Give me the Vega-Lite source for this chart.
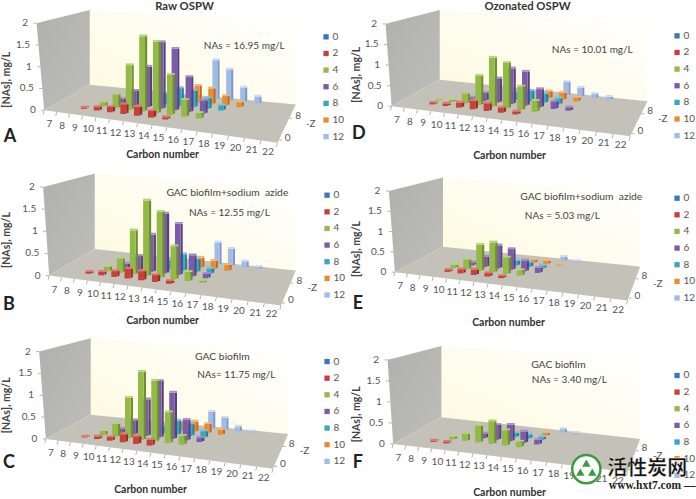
{"$schema":"https://vega.github.io/schema/vega-lite/v6.json","width":696,"height":499,"padding":0,"autosize":{"type":"fit","contains":"padding"},"background":"#ffffff","config":{"view":{"stroke":null},"text":{"font":"Lato"}},
"params":[{"name":"geo","value":{
"A":{"fl":[44.3,110.7],"fr":[278.3,143.3],"bl":[90,85],"br":[296.7,105],"ftl":[36.7,23.3],"btl":[90,10],"btr":[295,22],"leg":[327,37],"xt":[163,156],"yt":[7.5,80],"let":[10,138],"title":[185,7],"n1":[0,0],"n2":[245,46]},
"B":{"fl":[49.3,276.7],"fr":[281.7,306.7],"bl":[95,250],"br":[296.7,271.7],"ftl":[43.3,187.7],"btl":[93.3,174.3],"btr":[295,186.7],"leg":[328,196],"xt":[163,322],"yt":[7,241],"let":[9,306],"title":[0,0],"n1":[228,194],"n2":[230,214]},
"C":{"fl":[46,440.7],"fr":[273.7,470.7],"bl":[91,416.3],"br":[289,435.7],"ftl":[39.3,353],"btl":[88.3,339.7],"btr":[287.3,352.3],"leg":[328,363],"xt":[151,492],"yt":[7,407],"let":[9,465],"title":[0,0],"n1":[223,358],"n2":[237,377]},
"D":{"fl":[392.7,106.7],"fr":[632,136.7],"bl":[441,80],"br":[649.3,101.7],"ftl":[386.7,24],"btl":[439.3,10],"btr":[647.7,23],"leg":[679,36],"xt":[511,157],"yt":[358,75],"let":[360,135],"title":[529,7],"n1":[0,0],"n2":[594,50]},
"E":{"fl":[396,273.3],"fr":[629.3,301.7],"bl":[444.3,247.7],"br":[642,267.7],"ftl":[390,191.7],"btl":[442,178.3],"btr":[641,191.7],"leg":[679,199],"xt":[510,324],"yt":[358,250],"let":[359,305],"title":[0,0],"n1":[583,198],"n2":[564,217]},
"F":{"fl":[394.3,445.7],"fr":[629.3,474],"bl":[442.7,419],"br":[642,440.7],"ftl":[388.7,361.3],"btl":[440,347.3],"btr":[641,359],"leg":[679,377],"xt":[511,495],"yt":[358,416],"let":[359,465],"title":[0,0],"n1":[560,366],"n2":[571,382]}
}}],
"datasets":{
"panels":[
{"panel":"A","title":"Raw OSPW","n1":"","n2":"NAs = 16.95 mg/L"},
{"panel":"B","title":"","n1":"GAC biofilm+sodium\u00a0 azide","n2":"NAs = 12.55 mg/L"},
{"panel":"C","title":"","n1":"GAC biofilm","n2":"NAs= 11.75 mg/L"},
{"panel":"D","title":"Ozonated OSPW","n1":"","n2":"NAs = 10.01 mg/L"},
{"panel":"E","title":"","n1":"GAC biofilm+sodium\u00a0 azide","n2":"NAs = 5.03 mg/L"},
{"panel":"F","title":"","n1":"GAC biofilm","n2":"NAs = 3.40 mg/L"}],
"nas":[
{"panel":"A","series":12,"carbon":17,"nas":0.97},{"panel":"A","series":12,"carbon":18,"nas":0.77},{"panel":"A","series":12,"carbon":19,"nas":0.36},{"panel":"A","series":12,"carbon":20,"nas":0.17},
{"panel":"A","series":10,"carbon":16,"nas":0.41},{"panel":"A","series":10,"carbon":17,"nas":0.38},{"panel":"A","series":10,"carbon":18,"nas":0.23},{"panel":"A","series":10,"carbon":19,"nas":0.12},
{"panel":"A","series":8,"carbon":14,"nas":0.25},{"panel":"A","series":8,"carbon":15,"nas":0.42},{"panel":"A","series":8,"carbon":16,"nas":0.39},{"panel":"A","series":8,"carbon":17,"nas":0.25},{"panel":"A","series":8,"carbon":18,"nas":0.12},
{"panel":"A","series":6,"carbon":11,"nas":0.12},{"panel":"A","series":6,"carbon":12,"nas":0.35},{"panel":"A","series":6,"carbon":13,"nas":0.95},{"panel":"A","series":6,"carbon":14,"nas":1.55},{"panel":"A","series":6,"carbon":15,"nas":1.42},{"panel":"A","series":6,"carbon":16,"nas":0.8},{"panel":"A","series":6,"carbon":17,"nas":0.3},
{"panel":"A","series":4,"carbon":10,"nas":0.1},{"panel":"A","series":4,"carbon":11,"nas":0.32},{"panel":"A","series":4,"carbon":12,"nas":1.03},{"panel":"A","series":4,"carbon":13,"nas":1.72},{"panel":"A","series":4,"carbon":14,"nas":1.62},{"panel":"A","series":4,"carbon":15,"nas":0.9},{"panel":"A","series":4,"carbon":16,"nas":0.37},{"panel":"A","series":4,"carbon":17,"nas":0.12},
{"panel":"A","series":2,"carbon":9,"nas":0.03},{"panel":"A","series":2,"carbon":10,"nas":0.08},{"panel":"A","series":2,"carbon":11,"nas":0.12},{"panel":"A","series":2,"carbon":12,"nas":0.22},{"panel":"A","series":2,"carbon":13,"nas":0.2},{"panel":"A","series":2,"carbon":14,"nas":0.15},{"panel":"A","series":2,"carbon":15,"nas":0.05},
{"panel":"B","series":12,"carbon":17,"nas":0.54},{"panel":"B","series":12,"carbon":18,"nas":0.42},{"panel":"B","series":12,"carbon":19,"nas":0.15},{"panel":"B","series":12,"carbon":20,"nas":0.05},
{"panel":"B","series":10,"carbon":16,"nas":0.24},{"panel":"B","series":10,"carbon":17,"nas":0.2},{"panel":"B","series":10,"carbon":18,"nas":0.14},
{"panel":"B","series":8,"carbon":14,"nas":0.2},{"panel":"B","series":8,"carbon":15,"nas":0.38},{"panel":"B","series":8,"carbon":16,"nas":0.3},{"panel":"B","series":8,"carbon":17,"nas":0.12},
{"panel":"B","series":6,"carbon":11,"nas":0.12},{"panel":"B","series":6,"carbon":12,"nas":0.33},{"panel":"B","series":6,"carbon":13,"nas":0.86},{"panel":"B","series":6,"carbon":14,"nas":1.37},{"panel":"B","series":6,"carbon":15,"nas":1.16},{"panel":"B","series":6,"carbon":16,"nas":0.48},{"panel":"B","series":6,"carbon":17,"nas":0.1},
{"panel":"B","series":4,"carbon":10,"nas":0.11},{"panel":"B","series":4,"carbon":11,"nas":0.33},{"panel":"B","series":4,"carbon":12,"nas":1.0},{"panel":"B","series":4,"carbon":13,"nas":1.7},{"panel":"B","series":4,"carbon":14,"nas":1.47},{"panel":"B","series":4,"carbon":15,"nas":0.73},{"panel":"B","series":4,"carbon":16,"nas":0.2},{"panel":"B","series":4,"carbon":17,"nas":0.05},
{"panel":"B","series":2,"carbon":9,"nas":0.04},{"panel":"B","series":2,"carbon":10,"nas":0.08},{"panel":"B","series":2,"carbon":11,"nas":0.13},{"panel":"B","series":2,"carbon":12,"nas":0.22},{"panel":"B","series":2,"carbon":13,"nas":0.2},{"panel":"B","series":2,"carbon":14,"nas":0.15},{"panel":"B","series":2,"carbon":15,"nas":0.06},
{"panel":"C","series":12,"carbon":17,"nas":0.42},{"panel":"C","series":12,"carbon":18,"nas":0.3},{"panel":"C","series":12,"carbon":19,"nas":0.12},{"panel":"C","series":12,"carbon":20,"nas":0.04},
{"panel":"C","series":10,"carbon":15,"nas":0.2},{"panel":"C","series":10,"carbon":16,"nas":0.25},{"panel":"C","series":10,"carbon":17,"nas":0.22},{"panel":"C","series":10,"carbon":18,"nas":0.12},
{"panel":"C","series":8,"carbon":14,"nas":0.15},{"panel":"C","series":8,"carbon":15,"nas":0.33},{"panel":"C","series":8,"carbon":16,"nas":0.28},{"panel":"C","series":8,"carbon":17,"nas":0.15},
{"panel":"C","series":6,"carbon":11,"nas":0.1},{"panel":"C","series":6,"carbon":12,"nas":0.33},{"panel":"C","series":6,"carbon":13,"nas":0.85},{"panel":"C","series":6,"carbon":14,"nas":1.3},{"panel":"C","series":6,"carbon":15,"nas":1.06},{"panel":"C","series":6,"carbon":16,"nas":0.47},{"panel":"C","series":6,"carbon":17,"nas":0.1},
{"panel":"C","series":4,"carbon":10,"nas":0.1},{"panel":"C","series":4,"carbon":11,"nas":0.3},{"panel":"C","series":4,"carbon":12,"nas":0.93},{"panel":"C","series":4,"carbon":13,"nas":1.55},{"panel":"C","series":4,"carbon":14,"nas":1.37},{"panel":"C","series":4,"carbon":15,"nas":0.69},{"panel":"C","series":4,"carbon":16,"nas":0.2},
{"panel":"C","series":2,"carbon":9,"nas":0.02},{"panel":"C","series":2,"carbon":10,"nas":0.06},{"panel":"C","series":2,"carbon":11,"nas":0.08},{"panel":"C","series":2,"carbon":12,"nas":0.18},{"panel":"C","series":2,"carbon":13,"nas":0.17},{"panel":"C","series":2,"carbon":14,"nas":0.13},
{"panel":"D","series":12,"carbon":17,"nas":0.35},{"panel":"D","series":12,"carbon":18,"nas":0.24},{"panel":"D","series":12,"carbon":19,"nas":0.11},{"panel":"D","series":12,"carbon":20,"nas":0.08},
{"panel":"D","series":10,"carbon":16,"nas":0.18},{"panel":"D","series":10,"carbon":17,"nas":0.18},{"panel":"D","series":10,"carbon":18,"nas":0.1},
{"panel":"D","series":8,"carbon":14,"nas":0.2},{"panel":"D","series":8,"carbon":15,"nas":0.26},{"panel":"D","series":8,"carbon":16,"nas":0.22},{"panel":"D","series":8,"carbon":17,"nas":0.15},
{"panel":"D","series":6,"carbon":11,"nas":0.05},{"panel":"D","series":6,"carbon":12,"nas":0.2},{"panel":"D","series":6,"carbon":13,"nas":0.6},{"panel":"D","series":6,"carbon":14,"nas":0.88},{"panel":"D","series":6,"carbon":15,"nas":0.83},{"panel":"D","series":6,"carbon":16,"nas":0.44},{"panel":"D","series":6,"carbon":17,"nas":0.18},{"panel":"D","series":6,"carbon":18,"nas":0.08},
{"panel":"D","series":4,"carbon":9,"nas":0.03},{"panel":"D","series":4,"carbon":10,"nas":0.05},{"panel":"D","series":4,"carbon":11,"nas":0.25},{"panel":"D","series":4,"carbon":12,"nas":0.72},{"panel":"D","series":4,"carbon":13,"nas":1.19},{"panel":"D","series":4,"carbon":14,"nas":1.09},{"panel":"D","series":4,"carbon":15,"nas":0.56},{"panel":"D","series":4,"carbon":16,"nas":0.26},
{"panel":"D","series":2,"carbon":9,"nas":0.04},{"panel":"D","series":2,"carbon":10,"nas":0.06},{"panel":"D","series":2,"carbon":11,"nas":0.12},{"panel":"D","series":2,"carbon":12,"nas":0.2},{"panel":"D","series":2,"carbon":13,"nas":0.18},{"panel":"D","series":2,"carbon":14,"nas":0.12},{"panel":"D","series":2,"carbon":15,"nas":0.07},
{"panel":"E","series":12,"carbon":17,"nas":0.12},{"panel":"E","series":12,"carbon":18,"nas":0.04},
{"panel":"E","series":10,"carbon":15,"nas":0.08},{"panel":"E","series":10,"carbon":16,"nas":0.09},{"panel":"E","series":10,"carbon":17,"nas":0.03},
{"panel":"E","series":8,"carbon":14,"nas":0.13},{"panel":"E","series":8,"carbon":15,"nas":0.12},{"panel":"E","series":8,"carbon":16,"nas":0.08},
{"panel":"E","series":6,"carbon":11,"nas":0.08},{"panel":"E","series":6,"carbon":12,"nas":0.26},{"panel":"E","series":6,"carbon":13,"nas":0.58},{"panel":"E","series":6,"carbon":14,"nas":0.52},{"panel":"E","series":6,"carbon":15,"nas":0.27},{"panel":"E","series":6,"carbon":16,"nas":0.12},
{"panel":"E","series":4,"carbon":10,"nas":0.08},{"panel":"E","series":4,"carbon":11,"nas":0.25},{"panel":"E","series":4,"carbon":12,"nas":0.65},{"panel":"E","series":4,"carbon":13,"nas":0.74},{"panel":"E","series":4,"carbon":14,"nas":0.4},{"panel":"E","series":4,"carbon":15,"nas":0.13},
{"panel":"E","series":2,"carbon":10,"nas":0.05},{"panel":"E","series":2,"carbon":11,"nas":0.1},{"panel":"E","series":2,"carbon":12,"nas":0.13},{"panel":"E","series":2,"carbon":13,"nas":0.08},{"panel":"E","series":2,"carbon":14,"nas":0.05},
{"panel":"F","series":12,"carbon":17,"nas":0.1},{"panel":"F","series":12,"carbon":18,"nas":0.04},
{"panel":"F","series":10,"carbon":16,"nas":0.08},
{"panel":"F","series":8,"carbon":14,"nas":0.1},{"panel":"F","series":8,"carbon":15,"nas":0.1},{"panel":"F","series":8,"carbon":16,"nas":0.08},
{"panel":"F","series":6,"carbon":12,"nas":0.12},{"panel":"F","series":6,"carbon":13,"nas":0.36},{"panel":"F","series":6,"carbon":14,"nas":0.4},{"panel":"F","series":6,"carbon":15,"nas":0.27},{"panel":"F","series":6,"carbon":16,"nas":0.11},
{"panel":"F","series":4,"carbon":10,"nas":0.07},{"panel":"F","series":4,"carbon":11,"nas":0.17},{"panel":"F","series":4,"carbon":12,"nas":0.4},{"panel":"F","series":4,"carbon":13,"nas":0.54},{"panel":"F","series":4,"carbon":14,"nas":0.36},{"panel":"F","series":4,"carbon":15,"nas":0.13},
{"panel":"F","series":2,"carbon":9,"nas":0.03},{"panel":"F","series":2,"carbon":10,"nas":0.04}]
},
"encoding":{
"x":{"field":"px","type":"quantitative","scale":{"domain":[0,696],"nice":false,"zero":false},"axis":null},
"y":{"field":"py","type":"quantitative","scale":{"domain":[499,0],"nice":false,"zero":false},"axis":null}},
"layer":[
{"data":{"name":"panels"},"transform":[{"calculate":"geo[datum.panel]","as":"g"},{"calculate":"[0,1]","as":"edge"},{"flatten":["edge"]},
{"calculate":"datum.edge?datum.g.br[0]:datum.g.bl[0]","as":"px"},{"calculate":"datum.edge?datum.g.btr[1]:datum.g.btl[1]","as":"py"},{"calculate":"datum.edge?datum.g.br[1]:datum.g.bl[1]","as":"py2"}],
"mark":{"type":"area","color":{"gradient":"linear","x1":0,"y1":1,"x2":1,"y2":0,"stops":[{"offset":0,"color":"#fdfadf"},{"offset":1,"color":"#ffffff"}]}},
"encoding":{"y2":{"field":"py2"},"detail":{"field":"panel"}}},
{"data":{"name":"panels"},"transform":[{"calculate":"geo[datum.panel]","as":"g"},{"calculate":"[0,1,2]","as":"edge"},{"flatten":["edge"]},
{"calculate":"datum.edge==0?datum.g.ftl[0]:datum.edge==1?datum.g.fl[0]:datum.g.bl[0]","as":"px"},
{"calculate":"datum.edge==0?datum.g.ftl[1]:datum.edge==1?datum.g.ftl[1]+(datum.g.btl[1]-datum.g.ftl[1])*(datum.g.fl[0]-datum.g.ftl[0])/(datum.g.bl[0]-datum.g.ftl[0]):datum.g.btl[1]","as":"py"},
{"calculate":"datum.edge==0?datum.g.ftl[1]:datum.edge==1?datum.g.fl[1]:datum.g.bl[1]","as":"py2"}],
"mark":{"type":"area","color":{"gradient":"linear","x1":0,"y1":0,"x2":1,"y2":1,"stops":[{"offset":0,"color":"#b0b0ac"},{"offset":1,"color":"#bdbdb9"}]}},
"encoding":{"y2":{"field":"py2"},"detail":{"field":"panel"}}},
{"data":{"name":"panels"},"transform":[{"calculate":"geo[datum.panel]","as":"g"},{"calculate":"[0,1,2,3]","as":"edge"},{"flatten":["edge"]},
{"calculate":"datum.edge==0?datum.g.fl[0]:datum.edge==1?datum.g.bl[0]:datum.edge==2?datum.g.fr[0]:datum.g.br[0]","as":"px"},
{"calculate":"datum.edge==0?datum.g.fl[1]:datum.edge==1?datum.g.bl[1]:datum.edge==2?datum.g.bl[1]+(datum.g.br[1]-datum.g.bl[1])*(datum.g.fr[0]-datum.g.bl[0])/(datum.g.br[0]-datum.g.bl[0]):datum.g.br[1]","as":"py"},
{"calculate":"datum.edge==0?datum.g.fl[1]:datum.edge==1?datum.g.fl[1]+(datum.g.fr[1]-datum.g.fl[1])*(datum.g.bl[0]-datum.g.fl[0])/(datum.g.fr[0]-datum.g.fl[0]):datum.edge==2?datum.g.fr[1]:datum.g.br[1]","as":"py2"}],
"mark":{"type":"area","color":"#c4c2b8"},
"encoding":{"y2":{"field":"py2"},"detail":{"field":"panel"}}},
{"data":{"name":"nas"},"transform":[{"calculate":"geo[datum.panel]","as":"g"},
{"calculate":"(datum.carbon-6.5)/16","as":"s"},{"calculate":"datum.s*(0.85+0.15*datum.s)","as":"w"},{"calculate":"(datum.series/2+0.5)/7","as":"v"},
{"calculate":"(1-datum.v)*(datum.g.fl[0]+(datum.g.fr[0]-datum.g.fl[0])*datum.w)+datum.v*(datum.g.bl[0]+(datum.g.br[0]-datum.g.bl[0])*datum.w)","as":"bx"},
{"calculate":"(1-datum.v)*(datum.g.fl[1]+(datum.g.fr[1]-datum.g.fl[1])*datum.w)+datum.v*(datum.g.bl[1]+(datum.g.br[1]-datum.g.bl[1])*datum.w)","as":"by"},
{"calculate":"0.5*((1-datum.v)*(datum.g.fl[1]-datum.g.ftl[1])*(1+0.18*datum.w)+datum.v*((datum.g.bl[1]-datum.g.btl[1])+datum.w*((datum.g.br[1]-datum.g.btr[1])-(datum.g.bl[1]-datum.g.btl[1]))))","as":"unit"},
{"calculate":"datum.by-datum.nas*datum.unit","as":"top"},{"calculate":"4.3-0.8*datum.v","as":"hw"},
{"calculate":"['side','front','cap']","as":"part"},{"flatten":["part"]},
{"calculate":"datum.part=='side'?datum.bx+datum.hw-2.2:datum.bx-datum.hw","as":"px"},
{"calculate":"datum.part=='front'?datum.bx+datum.hw-2.2:datum.bx+datum.hw","as":"px2"},
{"calculate":"datum.part=='cap'?datum.top:datum.part=='side'?datum.by-1:datum.by","as":"py"},
{"calculate":"datum.part=='cap'?datum.top-1.8:datum.top","as":"py2"},
{"calculate":"datum.series+datum.part","as":"key"}],
"mark":{"type":"rect"},
"encoding":{"x2":{"field":"px2"},"y2":{"field":"py2"},
"color":{"field":"key","type":"nominal","legend":null,"scale":{
"domain":["0front","2front","4front","6front","8front","10front","12front","2side","4side","6side","8side","10side","12side","2cap","4cap","6cap","8cap","10cap","12cap"],
"range":["#3b76b8","#c8403a","#93b947","#7c5ba8","#35a6c4","#ee8a2e","#9fbbe8","#962c28","#6e8f30","#5b4080","#24809a","#c06a1a","#7c97c8","#e07670","#b5d378","#a58cca","#74c6dc","#f8b478","#c8daf4"]}}}},
{"data":{"name":"panels"},"transform":[{"calculate":"geo[datum.panel]","as":"g"},{"calculate":"[6.5,7.5,8.5,9.5,10.5,11.5,12.5,13.5,14.5,15.5,16.5,17.5,18.5,19.5,20.5,21.5,22.5]","as":"carbon"},{"flatten":["carbon"]},
{"calculate":"(datum.carbon-6.5)/16","as":"s"},{"calculate":"datum.s*(0.85+0.15*datum.s)","as":"w"},
{"calculate":"datum.g.fl[0]+(datum.g.fr[0]-datum.g.fl[0])*datum.w","as":"px"},{"calculate":"datum.g.fl[1]+(datum.g.fr[1]-datum.g.fl[1])*datum.w","as":"py"},
{"calculate":"datum.px-1","as":"px2"},{"calculate":"datum.py+4","as":"py2"}],
"mark":{"type":"rule","color":"#a0a09a","strokeWidth":0.8},"encoding":{"x2":{"field":"px2"},"y2":{"field":"py2"}}},
{"data":{"name":"panels"},"transform":[{"calculate":"geo[datum.panel]","as":"g"},{"calculate":"[0,0.5,1,1.5,2]","as":"val"},{"flatten":["val"]},
{"calculate":"datum.g.fl[0]+(datum.g.ftl[0]-datum.g.fl[0])*datum.val/2","as":"px"},{"calculate":"datum.g.fl[1]+(datum.g.ftl[1]-datum.g.fl[1])*datum.val/2","as":"py"},
{"calculate":"datum.px-3","as":"px2"},{"calculate":"datum.py","as":"py2"}],
"mark":{"type":"rule","color":"#a0a09a","strokeWidth":0.8},"encoding":{"x2":{"field":"px2"},"y2":{"field":"py2"}}},
{"data":{"name":"panels"},"transform":[{"calculate":"geo[datum.panel]","as":"g"},{"calculate":"[0,8]","as":"z"},{"flatten":["z"]},{"calculate":"(datum.z/2+0.5)/7","as":"v"},
{"calculate":"datum.g.fr[0]+(datum.g.br[0]-datum.g.fr[0])*datum.v","as":"px"},{"calculate":"datum.g.fr[1]+(datum.g.br[1]-datum.g.fr[1])*datum.v","as":"py"},
{"calculate":"datum.px+3","as":"px2"},{"calculate":"datum.py","as":"py2"}],
"mark":{"type":"rule","color":"#a0a09a","strokeWidth":0.8},"encoding":{"x2":{"field":"px2"},"y2":{"field":"py2"}}},
{"data":{"name":"panels"},"transform":[{"calculate":"geo[datum.panel]","as":"g"},{"calculate":"[7,8,9,10,11,12,13,14,15,16,17,18,19,20,21,22]","as":"carbon"},{"flatten":["carbon"]},
{"calculate":"(datum.carbon-6.5)/16","as":"s"},{"calculate":"datum.s*(0.85+0.15*datum.s)","as":"w"},
{"calculate":"datum.g.fl[0]+(datum.g.fr[0]-datum.g.fl[0])*datum.w-1","as":"px"},{"calculate":"datum.g.fl[1]+(datum.g.fr[1]-datum.g.fl[1])*datum.w+13.5-3.5*datum.s","as":"py"},{"calculate":"''+datum.carbon","as":"t"}],
"mark":{"type":"text","fontSize":10,"color":"#555555","align":"center","baseline":"middle"},"encoding":{"text":{"field":"t","type":"nominal"}}},
{"data":{"name":"panels"},"transform":[{"calculate":"geo[datum.panel]","as":"g"},{"calculate":"[0,0.5,1,1.5,2]","as":"val"},{"flatten":["val"]},
{"calculate":"datum.g.fl[0]+(datum.g.ftl[0]-datum.g.fl[0])*datum.val/2-8.5","as":"px"},{"calculate":"datum.g.fl[1]+(datum.g.ftl[1]-datum.g.fl[1])*datum.val/2","as":"py"},{"calculate":"''+datum.val","as":"t"}],
"mark":{"type":"text","fontSize":10,"color":"#555555","align":"right","baseline":"middle"},"encoding":{"text":{"field":"t","type":"nominal"}}},
{"data":{"name":"panels"},"transform":[{"calculate":"geo[datum.panel]","as":"g"},{"calculate":"[0,8]","as":"z"},{"flatten":["z"]},{"calculate":"(datum.z/2+0.5)/7","as":"v"},
{"calculate":"datum.g.fr[0]+(datum.g.br[0]-datum.g.fr[0])*datum.v+6","as":"px"},{"calculate":"datum.g.fr[1]+(datum.g.br[1]-datum.g.fr[1])*datum.v-2.5","as":"py"},{"calculate":"''+datum.z","as":"t"}],
"mark":{"type":"text","fontSize":10,"color":"#555555","align":"left","baseline":"middle"},"encoding":{"text":{"field":"t","type":"nominal"}}},
{"data":{"name":"panels"},"transform":[{"calculate":"geo[datum.panel]","as":"g"},
{"calculate":"(datum.g.fr[0]+datum.g.br[0])/2+24","as":"px"},{"calculate":"(datum.g.fr[1]+datum.g.br[1])/2","as":"py"},{"calculate":"'-Z'","as":"t"}],
"mark":{"type":"text","fontSize":10,"color":"#555555","align":"center","baseline":"middle"},"encoding":{"text":{"field":"t","type":"nominal"}}},
{"data":{"name":"panels"},"transform":[{"calculate":"geo[datum.panel]","as":"g"},{"calculate":"datum.g.xt[0]","as":"px"},{"calculate":"datum.g.xt[1]","as":"py"},{"calculate":"'Carbon number'","as":"t"}],
"mark":{"type":"text","fontSize":10.5,"fontWeight":"bold","color":"#333333","align":"center","baseline":"middle"},"encoding":{"text":{"field":"t","type":"nominal"}}},
{"data":{"name":"panels"},"transform":[{"calculate":"geo[datum.panel]","as":"g"},{"calculate":"datum.g.yt[0]","as":"px"},{"calculate":"datum.g.yt[1]","as":"py"},{"calculate":"'[NAs], mg/L'","as":"t"}],
"mark":{"type":"text","fontSize":10.5,"fontWeight":"bold","color":"#444444","angle":270,"align":"center","baseline":"middle"},"encoding":{"text":{"field":"t","type":"nominal"}}},
{"data":{"name":"panels"},"transform":[{"calculate":"geo[datum.panel]","as":"g"},{"calculate":"datum.g.let[0]","as":"px"},{"calculate":"datum.g.let[1]","as":"py"}],
"mark":{"type":"text","fontSize":18,"fontWeight":"bold","color":"#222222","align":"center","baseline":"middle"},"encoding":{"text":{"field":"panel","type":"nominal"}}},
{"data":{"name":"panels"},"transform":[{"filter":"datum.title!=''"},{"calculate":"geo[datum.panel]","as":"g"},{"calculate":"datum.g.title[0]","as":"px"},{"calculate":"datum.g.title[1]","as":"py"}],
"mark":{"type":"text","fontSize":11.3,"fontWeight":"bold","color":"#333333","align":"center","baseline":"middle"},"encoding":{"text":{"field":"title","type":"nominal"}}},
{"data":{"name":"panels"},"transform":[{"filter":"datum.n1!=''"},{"calculate":"geo[datum.panel]","as":"g"},{"calculate":"datum.g.n1[0]","as":"px"},{"calculate":"datum.g.n1[1]","as":"py"}],
"mark":{"type":"text","fontSize":10.3,"color":"#444444","align":"center","baseline":"middle"},"encoding":{"text":{"field":"n1","type":"nominal"}}},
{"data":{"name":"panels"},"transform":[{"calculate":"geo[datum.panel]","as":"g"},{"calculate":"datum.g.n2[0]","as":"px"},{"calculate":"datum.g.n2[1]","as":"py"}],
"mark":{"type":"text","fontSize":10,"color":"#444444","align":"center","baseline":"middle"},"encoding":{"text":{"field":"n2","type":"nominal"}}},
{"data":{"name":"panels"},"transform":[{"calculate":"geo[datum.panel]","as":"g"},{"calculate":"[0,2,4,6,8,10,12]","as":"series"},{"flatten":["series"]},
{"calculate":"datum.g.leg[0]","as":"px"},{"calculate":"datum.g.leg[1]+datum.series*8.35","as":"py"},{"calculate":"datum.series+'front'","as":"key"}],
"mark":{"type":"point","shape":"square","filled":true,"size":28,"opacity":1},"encoding":{"color":{"field":"key","type":"nominal","legend":null}}},
{"data":{"name":"panels"},"transform":[{"calculate":"geo[datum.panel]","as":"g"},{"calculate":"[0,2,4,6,8,10,12]","as":"series"},{"flatten":["series"]},
{"calculate":"datum.g.leg[0]+6.5","as":"px"},{"calculate":"datum.g.leg[1]+datum.series*8.35","as":"py"},{"calculate":"''+datum.series","as":"t"}],
"mark":{"type":"text","fontSize":10,"color":"#555555","align":"left","baseline":"middle"},"encoding":{"text":{"field":"t","type":"nominal"}}},
{"data":{"values":[{"mark":"ring","along":588,"down":471}]},"transform":[{"calculate":"datum.along","as":"px"},{"calculate":"datum.down","as":"py"}],
"mark":{"type":"point","shape":"circle","filled":true,"size":800,"fill":"#ffffff","stroke":"#3a9a3e","strokeWidth":2.5,"opacity":1}},
{"data":{"values":[{"along":582,"down":474},{"along":594,"down":474},{"along":588,"down":465}]},"transform":[{"calculate":"datum.along","as":"px"},{"calculate":"datum.down","as":"py"}],
"mark":{"type":"point","shape":"triangle-up","filled":true,"size":70,"color":"#3a9a3e","opacity":1}},
{"data":{"values":[{"along":649,"down":471,"t":"活性炭网"}]},"transform":[{"calculate":"datum.along","as":"px"},{"calculate":"datum.down","as":"py"}],
"mark":{"type":"text","font":"Noto Sans CJK SC","fontWeight":"bold","fontSize":20,"color":"#111111","stroke":"#ffffff","strokeWidth":0.3,"align":"center","baseline":"middle"},"encoding":{"text":{"field":"t","type":"nominal"}}},
{"data":{"values":[{"along":654,"down":488,"t":"www.hxt7.com —"}]},"transform":[{"calculate":"datum.along","as":"px"},{"calculate":"datum.down","as":"py"}],
"mark":{"type":"text","font":"Liberation Serif","fontWeight":"bold","fontSize":11.5,"color":"#222222","align":"center","baseline":"middle"},"encoding":{"text":{"field":"t","type":"nominal"}}}
]}
